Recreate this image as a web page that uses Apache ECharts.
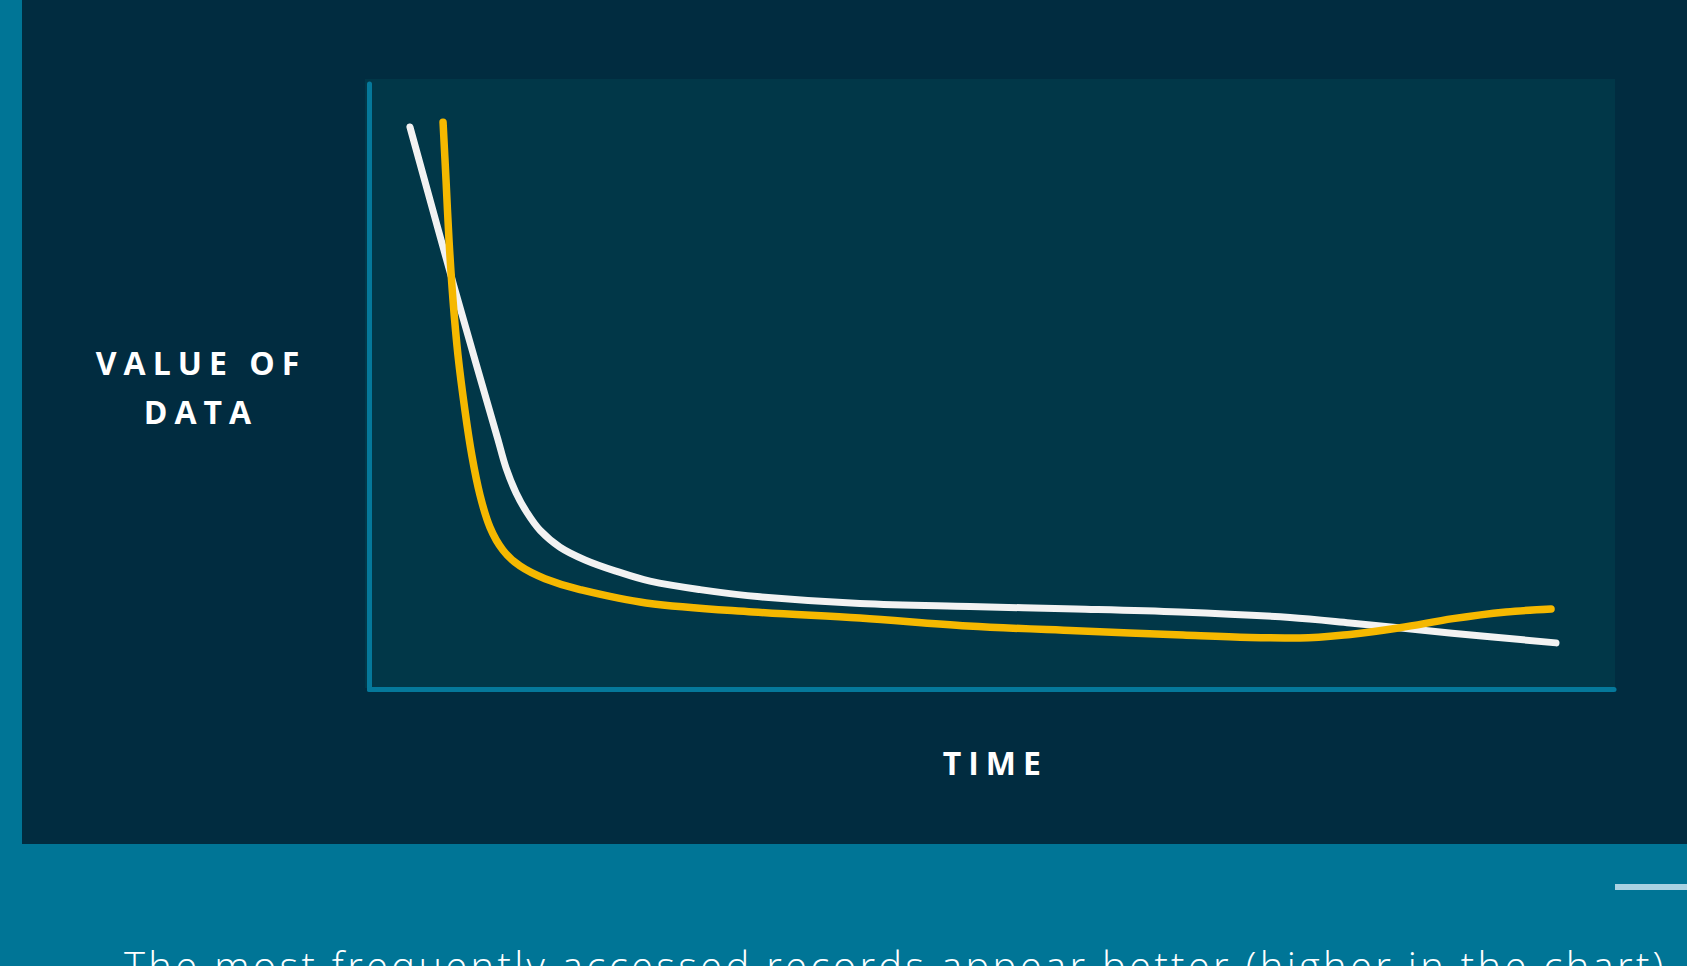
<!DOCTYPE html>
<html>
<head>
<meta charset="utf-8">
<script src="https://cdn.jsdelivr.net/npm/echarts@6/dist/echarts.min.js"></script>
<style>
  html, body { margin: 0; padding: 0; background: #007596; overflow: hidden; }
  #chart { width: 1687px; height: 966px; }
  /* spaced-out capitals for the axis titles, airy caption below */
  #chart text[style*="bold"] { letter-spacing: 7px; }
  #chart text[style*="300"] { letter-spacing: 3.3px; }
</style>
</head>
<body>
<div id="chart"></div>
<script>
// Value of data over time (relative units, 0-100 on both axes)
const whiteTime  = [3.25, 6.87, 10.33, 10.97, 11.77, 12.66, 13.70, 15.31, 17.32, 19.73, 22.54, 26.56, 31.38, 39.41, 48.25, 56.77, 65.13, 73.97, 78.79, 86.99, 95.34];
const whiteValue = [92.9, 66.0, 41.2, 36.6, 32.5, 29.2, 26.3, 23.5, 21.4, 19.6, 17.9, 16.5, 15.3, 14.2, 13.7, 13.3, 12.8, 11.9, 11.0, 9.3, 7.7];

const goldTime  = [5.91, 6.15, 6.39, 6.71, 7.11, 7.67, 8.23, 8.88, 9.68, 10.73, 12.09, 14.10, 16.91, 22.22, 30.81, 39.41, 48.09, 56.77, 65.37, 70.75, 74.77, 78.79, 82.80, 87.06, 91.33, 94.94];
const goldValue = [93.7, 84.1, 74.2, 64.3, 55.2, 46.1, 38.6, 32.1, 26.8, 23.0, 20.4, 18.3, 16.5, 14.3, 12.8, 11.8, 10.5, 9.7, 9.0, 8.6, 8.5, 9.1, 10.2, 11.7, 12.8, 13.3];

const axisTitles = { y: 'VALUE OF\nDATA', x: 'TIME' };
const caption = 'The most frequently accessed records appear better (higher in the chart)';

const zip = (xs, ys) => xs.map((x, i) => [x, ys[i]]);

const AXIS_COLOR = '#05789a';
const titleStyle = {
  color: '#ffffff',
  fontFamily: 'Open Sans',
  fontWeight: 'bold',
  fontSize: 32
};

const chart = echarts.init(document.getElementById('chart'), null, { renderer: 'svg' });

chart.setOption({
  backgroundColor: '#007596',
  animation: false,
  graphic: [
    { type: 'rect', z: -100, shape: { x: 22, y: 0, width: 1665, height: 844 }, style: { fill: '#012c40' }, silent: true },
    { type: 'rect', z: -90, shape: { x: 365, y: 79, width: 1250, height: 609 }, style: { fill: '#013748' }, silent: true },
    { type: 'rect', z: -90, shape: { x: 1615, y: 884, width: 72, height: 6 }, style: { fill: '#a9d2e2' }, silent: true },
    {
      type: 'text', z: 10, x: 124, y: 945,
      style: {
        text: caption,
        fill: '#ffffff',
        fontFamily: 'Open Sans',
        fontWeight: 300,
        fontSize: 40,
        align: 'left',
        verticalAlign: 'top'
      },
      silent: true
    }
  ],
  grid: { left: 369.5, right: 73, top: 84, bottom: 276.5, containLabel: false },
  xAxis: {
    type: 'value', min: 0, max: 100,
    name: axisTitles.x,
    nameLocation: 'middle',
    nameGap: 72.5,
    nameTextStyle: Object.assign({}, titleStyle, { align: 'center', verticalAlign: 'middle', padding: [0, 0, 0, 7] }),
    axisLine: { show: true, lineStyle: { color: AXIS_COLOR, width: 5 } },
    axisTick: { show: false },
    axisLabel: { show: false },
    splitLine: { show: false }
  },
  yAxis: {
    type: 'value', min: 0, max: 100,
    name: axisTitles.y,
    nameLocation: 'middle',
    nameRotate: 0,
    nameGap: 168.5,
    nameTextStyle: Object.assign({}, titleStyle, { align: 'center', verticalAlign: 'middle', lineHeight: 49, padding: [0, 0, 16, 0] }),
    axisLine: { show: true, lineStyle: { color: AXIS_COLOR, width: 5 } },
    axisTick: { show: false },
    axisLabel: { show: false },
    splitLine: { show: false }
  },
  series: [
    {
      type: 'line',
      data: zip(whiteTime, whiteValue),
      smooth: 0.35,
      showSymbol: false,
      lineStyle: { color: '#f2f2f2', width: 7, cap: 'round', join: 'round' },
      z: 3
    },
    {
      type: 'line',
      data: zip(goldTime, goldValue),
      smooth: 0.35,
      showSymbol: false,
      lineStyle: { color: '#f5b800', width: 7.5, cap: 'round', join: 'round' },
      z: 4
    }
  ]
});
</script>
</body>
</html>
